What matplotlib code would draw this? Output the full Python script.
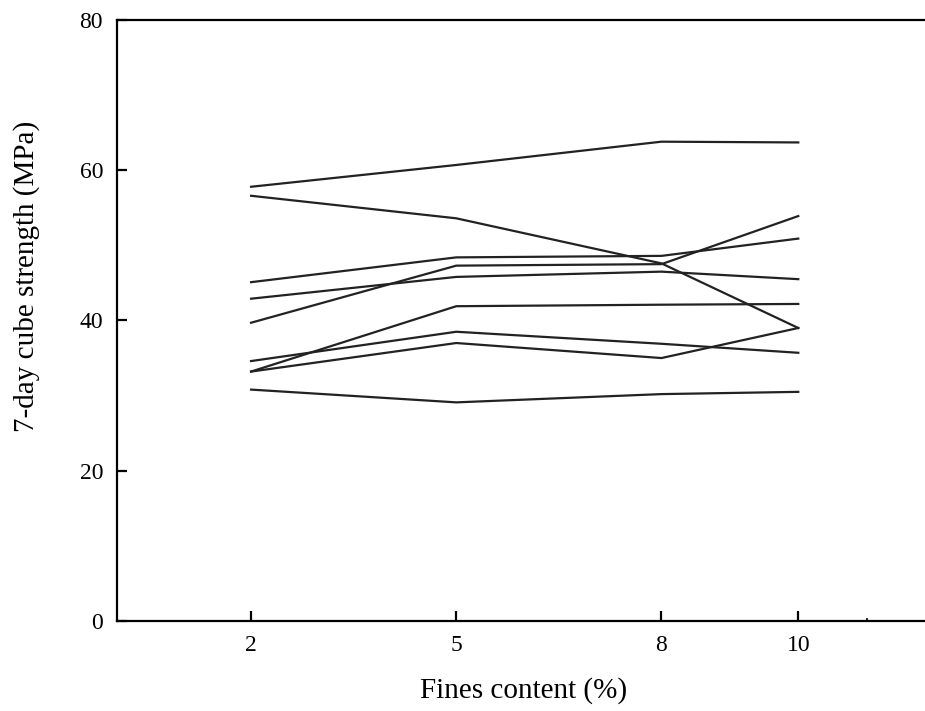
import matplotlib
matplotlib.use("Agg")
import matplotlib.pyplot as plt

plt.rcParams['font.family'] = ['Liberation Serif', 'DejaVu Serif']

fines = [2, 5, 8, 10]
strength_series = [
    [57.8, 60.7, 63.8, 63.7],
    [56.6, 53.6, 47.6, 39.0],
    [45.1, 48.4, 48.6, 50.9],
    [42.9, 45.8, 46.5, 45.5],
    [39.7, 47.3, 47.5, 53.9],
    [33.2, 41.9, 42.1, 42.2],
    [34.6, 38.5, 36.9, 35.7],
    [33.2, 37.0, 35.0, 39.0],
    [30.8, 29.1, 30.2, 30.5],
]

fig = plt.figure(figsize=(9.25, 7.11), dpi=100)
# axes runs past the right edge of the figure, so no right spine shows
ax = fig.add_axes([0.1265, 0.1266, 0.95, 0.8453])

for vals in strength_series:
    ax.plot(fines, vals, color='#222222', lw=1.6)

ax.set_xlim(0.04, 0.04 + 0.95 * 925 / 68.4)
ax.set_ylim(0, 80)
ax.set_xticks(fines)
ax.set_xticks([11], minor=True)
ax.set_yticks([0, 20, 40, 60, 80])
ax.tick_params(direction='in', length=7, width=1.6, labelsize=17, pad=10)
ax.tick_params(which='minor', direction='in', length=2, width=1.2)
for s in ax.spines.values():
    s.set_linewidth(1.6)

ax.set_xlabel('Fines content (%)', fontsize=21)
ax.set_ylabel('7-day cube strength (MPa)', fontsize=21)
ax.xaxis.set_label_coords((524 - 117) / (0.95 * 925), -(691 - 621) / 601,
                          transform=ax.transAxes)
ax.yaxis.set_label_coords(-(117 - 27) / (0.95 * 925), (621 - 276) / 601,
                          transform=ax.transAxes)
ax.xaxis.label.set_va('center')
ax.yaxis.label.set_va('center')

fig.savefig('out.png', dpi=100)
